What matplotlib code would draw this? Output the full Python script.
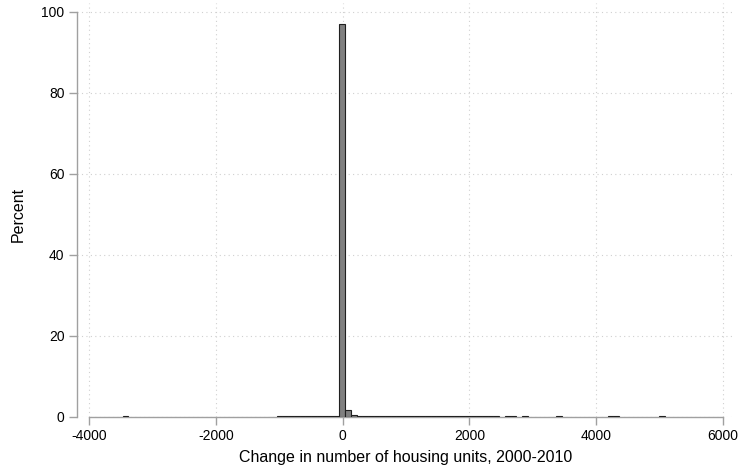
import matplotlib.pyplot as plt

# ---------- Data ----------
BIN_START = -3470
BIN_WIDTH = 90

# bin index -> percent of observations
bin_index = [0,
             27, 28, 29, 30, 31, 32, 33, 34, 35, 36, 37,
             38, 39, 40, 41, 42, 43, 44, 45, 46, 47, 48, 49, 50,
             51, 52, 53, 54, 55, 56, 57, 58, 59, 60, 61, 62, 63, 64, 65,
             67, 68, 70, 76, 85, 86, 94]
percent = [0.2,
           0.15, 0.15, 0.15, 0.15, 0.15, 0.15, 0.15, 0.15, 0.15, 0.15, 0.3,
           97.0, 1.7, 0.6, 0.3, 0.2, 0.18, 0.15, 0.15, 0.15, 0.15, 0.15, 0.15, 0.15,
           0.15, 0.15, 0.15, 0.15, 0.15, 0.15, 0.15, 0.15, 0.15, 0.15, 0.15, 0.15, 0.15, 0.15, 0.15,
           0.2, 0.2, 0.2, 0.2, 0.2, 0.2, 0.2]

x_ticks = [-4000, -2000, 0, 2000, 4000, 6000]
y_ticks = [0, 20, 40, 60, 80, 100]

AXIS_GREY = '#a0a0a0'
GRID_GREY = '#d0d0d0'

plt.rcParams['font.family'] = ['Liberation Sans', 'DejaVu Sans']

fig = plt.figure(figsize=(7.4, 4.71), dpi=100)
ax = fig.add_axes([77 / 740, 1 - 417 / 471, (735 - 77) / 740, (417 - 3) / 471])

left_edges = [BIN_START + BIN_WIDTH * k for k in bin_index]
ax.bar(left_edges, percent, width=BIN_WIDTH, align='edge',
       color='#808080', edgecolor='#202020', linewidth=0.8, zorder=3)

ax.set_xlim(-4190, 6190)
ax.set_ylim(0, 102.2)
ax.set_xticks(x_ticks)
ax.set_yticks(y_ticks)
ax.set_xticklabels([str(t) for t in x_ticks])
ax.set_yticklabels([str(t) for t in y_ticks])

ax.grid(True, linestyle=(0, (1, 3)), color=GRID_GREY, linewidth=0.8, zorder=0)

# Stata-like axes: lines only across the tick range
for side in ['top', 'right']:
  ax.spines[side].set_visible(False)
ax.spines['left'].set_bounds(0, 100)
ax.spines['bottom'].set_bounds(-4000, 6000)
for side in ['left', 'bottom']:
  ax.spines[side].set_color(AXIS_GREY)
  ax.spines[side].set_linewidth(1.0)
  ax.spines[side].set_zorder(2)

ax.tick_params(axis='both', direction='out', length=6, width=1.0,
               color=AXIS_GREY, labelsize=10, labelcolor='black', pad=3)

ax.set_xlabel('Change in number of housing units, 2000-2010', fontsize=11.5, labelpad=5)
fig.text(18 / 740, 1 - 214 / 471, 'Percent', rotation=90, fontsize=11.5,
         ha='center', va='center')

fig.savefig('out.png', dpi=100)
